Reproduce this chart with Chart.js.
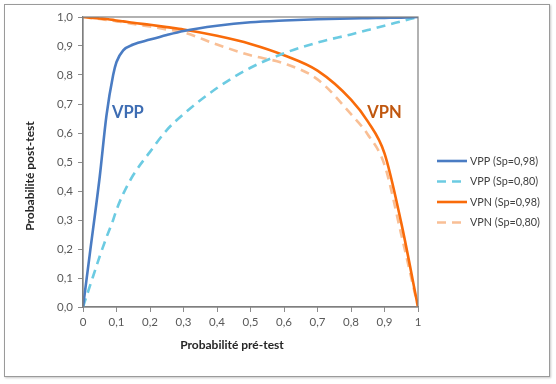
<!DOCTYPE html>
<html>
<head>
<meta charset="utf-8">
<script src="https://cdn.jsdelivr.net/npm/chart.js@4"></script>
<style>
  body { margin: 0; background: #fff; }
  #wrap { position: relative; width: 556px; height: 384px; }
  #frame { position: absolute; left: 4px; top: 4px; width: 544px; height: 371px;
           border: 1.5px solid #9a9a9a; box-shadow: 1px 1px 2px #c8c8c8; }
  #chart { position: absolute; left: 0; top: 0; }
</style>
</head>
<body>
<div id="wrap">
  <div id="frame"></div>
  <canvas id="chart" width="556" height="384"></canvas>
</div>
<script>
    // pré-test probability samples (x)
    const preTest = [0, 0.02, 0.05, 0.07, 0.09, 0.1, 0.12, 0.15, 0.2, 0.25, 0.3, 0.4, 0.5, 0.6, 0.7, 0.8, 0.85, 0.9, 0.95, 1];

    // values
    const vpp98 = [0, 0.18, 0.45, 0.66, 0.8, 0.845, 0.885, 0.905, 0.922, 0.938, 0.952, 0.97, 0.982, 0.988, 0.992, 0.995, 0.996, 0.997, 0.998, 1];
    const vpp80 = [0, 0.07, 0.175, 0.24, 0.3, 0.335, 0.39, 0.455, 0.535, 0.61, 0.665, 0.755, 0.825, 0.875, 0.912, 0.94, 0.955, 0.97, 0.985, 1];
    const vpn98 = [1, 0.998, 0.995, 0.993, 0.99, 0.988, 0.985, 0.98, 0.973, 0.965, 0.957, 0.935, 0.907, 0.868, 0.815, 0.715, 0.64, 0.53, 0.29, 0];
    const vpn80 = [1, 0.997, 0.993, 0.99, 0.987, 0.985, 0.982, 0.976, 0.967, 0.957, 0.947, 0.905, 0.868, 0.84, 0.785, 0.665, 0.595, 0.49, 0.25, 0];

    const seriesNames = ['VPP (Sp=0,98)', 'VPP (Sp=0,80)', 'VPN (Sp=0,98)', 'VPN (Sp=0,80)'];
    const xTickLabels = ['0', '0,1', '0,2', '0,3', '0,4', '0,5', '0,6', '0,7', '0,8', '0,9', '1'];
    const yTickLabels = ['0,0', '0,1', '0,2', '0,3', '0,4', '0,5', '0,6', '0,7', '0,8', '0,9', '1,0'];
    const xTitle = 'Probabilité pré-test';
    const yTitle = 'Probabilité post-test';

    const FONT = 'Lato, "Open Sans", sans-serif';

    function pts(ys) {
        return preTest.map((x, i) => ({ x: x, y: ys[i] }));
    }

    function line(label, ys, color, dash) {
        return {
            label: label,
            data: pts(ys),
            borderColor: color,
            backgroundColor: color,
            borderWidth: 2.6,
            borderDash: dash,
            pointRadius: 0,
            fill: false,
            cubicInterpolationMode: 'monotone'
        };
    }

    // box round the plot, axis titles, custom legend, VPP / VPN labels
    const extras = {
        id: 'extras',
        afterDatasetsDraw(chart) {
            const ctx = chart.ctx;
            const a = chart.chartArea;
            ctx.save();
            ctx.strokeStyle = '#7f7f7f';
            ctx.lineWidth = 1.2;
            ctx.strokeRect(a.left, a.top, a.right - a.left, a.bottom - a.top);

            const sx = chart.scales.x, sy = chart.scales.y;
            ctx.font = 'bold 16.5px ' + FONT;
            ctx.textAlign = 'center';
            ctx.textBaseline = 'middle';
            ctx.fillStyle = '#3e6db3';
            ctx.fillText('VPP', sx.getPixelForValue(0.134), sy.getPixelForValue(0.67));
            ctx.fillStyle = '#c0570f';
            ctx.fillText('VPN', sx.getPixelForValue(0.9), sy.getPixelForValue(0.67));

            // axis titles
            ctx.font = 'bold 12px ' + FONT;
            ctx.fillStyle = '#262626';
            ctx.fillText(xTitle, 232, 345);
            ctx.save();
            ctx.translate(30, 176);
            ctx.rotate(-Math.PI / 2);
            ctx.fillText(yTitle, 0, 0);
            ctx.restore();

            // legend
            ctx.font = '10.8px ' + FONT;
            ctx.textAlign = 'left';
            chart.data.datasets.forEach((ds, i) => {
                const y = 161 + i * 20.5;
                ctx.strokeStyle = ds.borderColor;
                ctx.lineWidth = ds.borderWidth;
                ctx.setLineDash(ds.borderDash || []);
                ctx.beginPath();
                ctx.moveTo(437, y);
                ctx.lineTo(467, y);
                ctx.stroke();
                ctx.setLineDash([]);
                ctx.fillStyle = '#404040';
                ctx.fillText(ds.label, 470, y + 0.5);
            });
            ctx.restore();
        }
    };

    const ctx = document.getElementById('chart').getContext('2d');
    new Chart(ctx, {
        type: 'line',
        data: {
            datasets: [
                line(seriesNames[0], vpp98, '#4a7cc3', []),
                line(seriesNames[1], vpp80, '#6ccbe2', [9, 6]),
                line(seriesNames[2], vpn98, '#f96b0a', []),
                line(seriesNames[3], vpn80, '#f9bf95', [9, 6])
            ]
        },
        plugins: [extras],
        options: {
            responsive: false,
            animation: false,
            layout: { padding: { left: 20, right: 138, top: 17, bottom: 27 } },
            plugins: {
                legend: { display: false },
                tooltip: { enabled: false }
            },
            scales: {
                x: {
                    type: 'linear',
                    min: 0, max: 1,
                    afterFit(scale) { scale.height = 50; },
                    afterBuildTicks(scale) {
                        scale.ticks = xTickLabels.map((t, i) => ({ value: i / 10 }));
                    },
                    ticks: {
                        color: '#595959',
                        font: { family: FONT, size: 11.5 },
                        padding: 3,
                        maxRotation: 0,
                        callback: (v, i) => xTickLabels[i]
                    },
                    grid: { drawOnChartArea: false, drawTicks: true, tickLength: 5, color: '#8c8c8c' },
                    border: { color: '#7f7f7f', width: 1.2 }
                },
                y: {
                    min: 0, max: 1,
                    afterFit(scale) { scale.width = 63; },
                    afterBuildTicks(scale) {
                        scale.ticks = yTickLabels.map((t, i) => ({ value: i / 10 }));
                    },
                    ticks: {
                        color: '#595959',
                        font: { family: FONT, size: 11.5 },
                        padding: 5,
                        callback: (v, i) => yTickLabels[i]
                    },
                    grid: { drawOnChartArea: false, drawTicks: true, tickLength: 5, color: '#8c8c8c' },
                    border: { color: '#7f7f7f', width: 1.2 }
                }
            }
        }
    });
</script>
</body>
</html>
